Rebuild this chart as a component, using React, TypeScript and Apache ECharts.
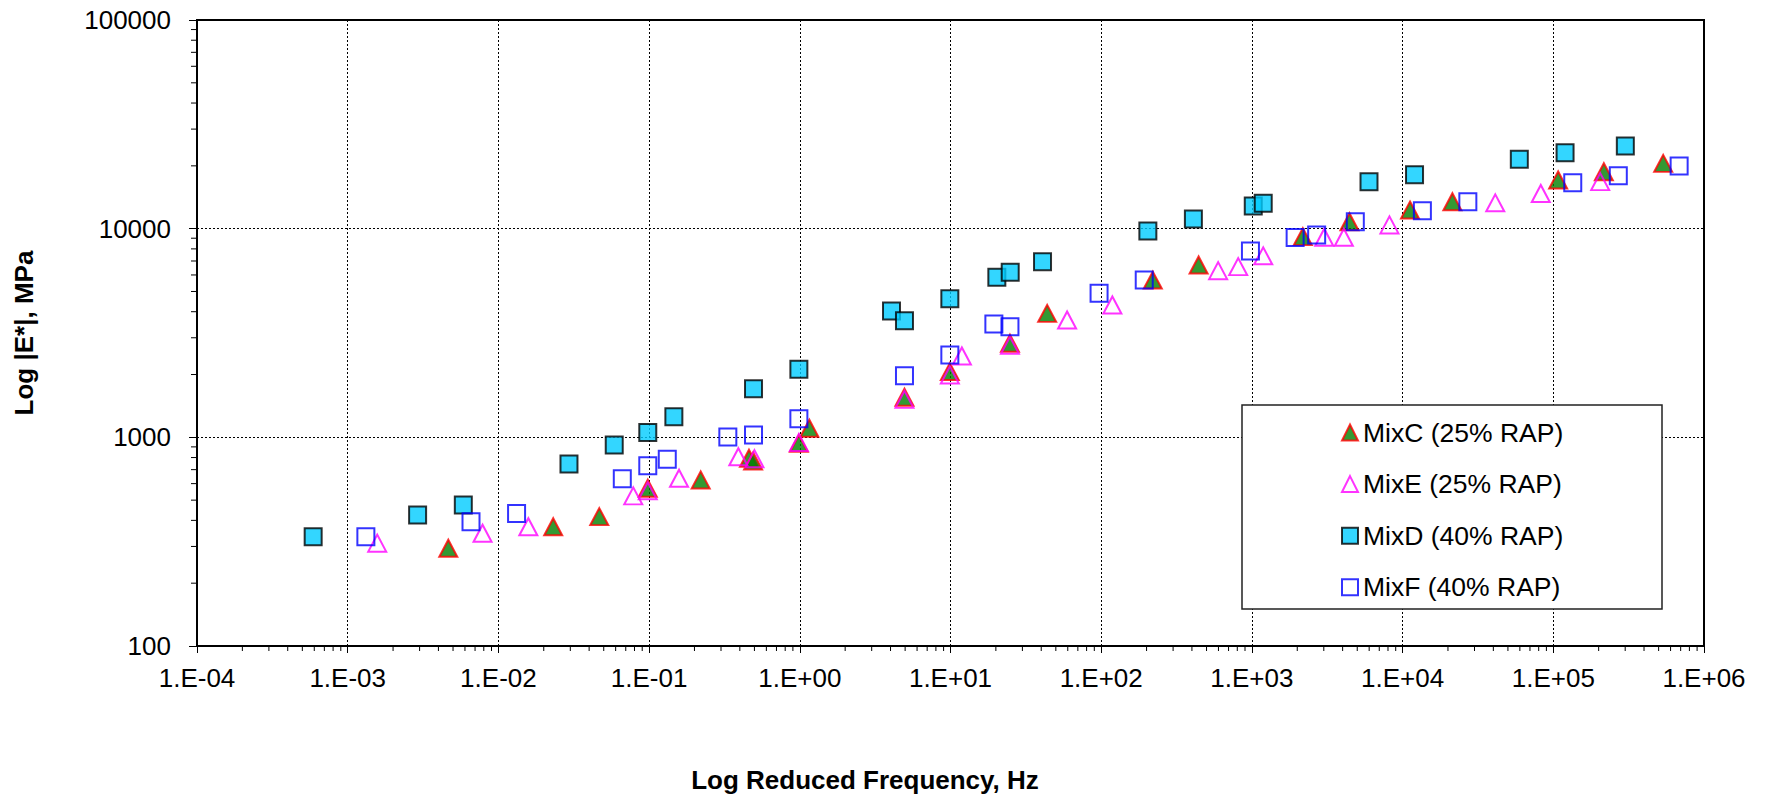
import React, { useEffect, useRef } from "react";
import * as echarts from "echarts";

// Axis ranges
const X_MIN = 1e-4;
const X_MAX = 1e6;
const Y_MIN = 100;
const Y_MAX = 100000;

// Series data: [reduced frequency (Hz), |E*| (MPa)]
const mixC: [number, number][] = [
  [4.65e-3, 294], [0.0231, 373], [0.0467, 417], [0.098, 570], [0.22, 625],
  [0.46, 794], [0.49, 770], [0.986, 936], [1.157, 1105], [4.95, 1556],
  [9.9, 2066], [24.8, 2825], [43.8, 3928], [220, 5670], [443, 6700],
  [2178, 9160], [4440, 10790], [11200, 12280], [21400, 13460],
  [107700, 17110], [216500, 18740], [536000, 20560],
];

const mixE: [number, number][] = [
  [1.57e-3, 311], [7.85e-3, 347], [0.0158, 373], [0.0785, 524], [0.098, 555],
  [0.158, 637], [0.391, 807], [0.5, 790], [0.986, 945], [4.95, 1520],
  [9.9, 1990], [11.9, 2455], [24.8, 2760], [59.4, 3650], [118.6, 4305],
  [597, 6290], [811, 6580], [1189, 7410], [3020, 9100], [4075, 9100],
  [8180, 10420], [41200, 13300], [82600, 14750], [204700, 16800],
];

const mixD: [number, number][] = [
  [5.9e-4, 334], [2.91e-3, 424], [5.85e-3, 474], [0.0294, 745], [0.0587, 918],
  [0.098, 1056], [0.146, 1256], [0.493, 1711], [0.986, 2119], [4.06, 4030],
  [4.95, 3622], [9.9, 4618], [20.3, 5850], [24.9, 6180], [40.8, 6950],
  [204, 9750], [409, 11120], [1021, 12850], [1189, 13250], [5985, 16760],
  [12000, 18150], [59500, 21500], [119700, 23100], [300600, 24900],
];

const mixF: [number, number][] = [
  [1.32e-3, 334], [6.58e-3, 394], [0.0132, 432], [0.0664, 634], [0.098, 730],
  [0.132, 785], [0.333, 1004], [0.493, 1026], [0.986, 1228], [4.95, 1972],
  [9.9, 2484], [19.4, 3490], [24.8, 3390], [96.8, 4900], [193, 5670],
  [978, 7810], [1936, 9060], [2690, 9330], [4855, 10790], [13530, 12170],
  [27100, 13460], [134600, 16600], [270000, 17940], [684000, 19950],
];

const seriesNames = ["MixC (25% RAP)", "MixE (25% RAP)", "MixD (40% RAP)", "MixF (40% RAP)"];
const xTitle = "Log Reduced Frequency, Hz";
const yTitle = "Log |E*|, MPa";

const FONT = "'Liberation Sans', Arial, sans-serif";

function minorTicks(minExp: number, maxExp: number): number[] {
  const out: number[] = [];
  for (let e = minExp; e < maxExp; e++) {
    for (let k = 2; k <= 9; k++) out.push(k * Math.pow(10, e));
  }
  return out;
}

function fmtExp(v: number): string {
  const e = Math.round(Math.log10(v));
  const s = e < 0 ? "-" : "+";
  const a = Math.abs(e);
  return "1.E" + s + (a < 10 ? "0" + a : String(a));
}

export default function App() {
  const ref = useRef<HTMLDivElement>(null);

  useEffect(() => {
    document.body.style.margin = "0";
    const chart = echarts.init(ref.current!, null, { renderer: "svg" });

    const xMinor = minorTicks(-4, 6).map((v) => [v, Y_MIN]);
    const yMinor = minorTicks(2, 5).map((v) => [X_MIN, v]);

    const option: any = {
      animation: false,
      backgroundColor: "#fff",
      textStyle: { fontFamily: FONT },
      grid: {
        left: 197,
        right: 61,
        top: 20,
        bottom: 150,
        show: true,
        borderColor: "#000",
        borderWidth: 2,
        backgroundColor: "transparent",
      },
      xAxis: {
        type: "log",
        logBase: 10,
        min: X_MIN,
        max: X_MAX,
        interval: 1,
        axisLine: { show: true, onZero: false, lineStyle: { color: "#000", width: 2 } },
        axisTick: { show: true, length: 7, lineStyle: { color: "#000", width: 1 } },
        axisLabel: {
          color: "#000",
          fontSize: 26,
          fontFamily: FONT,
          margin: 19,
          formatter: (v: number) => fmtExp(v),
        },
        splitLine: { show: true, lineStyle: { color: "#000", width: 1, type: [2, 2] } },
      },
      yAxis: {
        type: "log",
        logBase: 10,
        min: Y_MIN,
        max: Y_MAX,
        interval: 1,
        axisLine: { show: true, onZero: false, lineStyle: { color: "#000", width: 2 } },
        axisTick: { show: true, length: 8, lineStyle: { color: "#000", width: 1 } },
        axisLabel: {
          color: "#000",
          fontSize: 26,
          fontFamily: FONT,
          margin: 26,
          formatter: (v: number) => String(Math.round(v)),
        },
        splitLine: { show: true, lineStyle: { color: "#000", width: 1, type: [2, 2] } },
      },
      legend: {
        show: true,
        orient: "vertical",
        left: 1336,
        top: 414,
        itemWidth: 16,
        itemHeight: 16,
        itemGap: 24.6,
        z: 10,
        textStyle: { color: "#000", fontSize: 26.5, fontFamily: FONT },
        data: [
          { name: seriesNames[0], icon: "triangle" },
          { name: seriesNames[1], icon: "triangle" },
          { name: seriesNames[2], icon: "rect" },
          { name: seriesNames[3], icon: "rect" },
        ],
      },
      graphic: [
        {
          type: "rect",
          z: 5,
          shape: { x: 1242, y: 405, width: 420, height: 204 },
          style: { fill: "#fff", stroke: "#222", lineWidth: 1.5 },
        },
        {
          type: "text",
          x: 865,
          y: 780,
          style: {
            text: xTitle,
            fill: "#000",
            font: `bold 26px ${FONT}`,
            align: "center",
            verticalAlign: "middle",
          },
        },
        {
          type: "text",
          x: 24,
          y: 333,
          rotation: Math.PI / 2,
          style: {
            text: yTitle,
            fill: "#000",
            font: `bold 26px ${FONT}`,
            align: "center",
            verticalAlign: "middle",
          },
        },
      ],
      series: [
        {
          name: seriesNames[0],
          type: "scatter",
          data: mixC,
          symbol: "triangle",
          symbolSize: [18, 17],
          itemStyle: { color: "#008000", borderColor: "#FF0000", borderWidth: 2 },
          z: 3,
        },
        {
          name: seriesNames[1],
          type: "scatter",
          data: mixE,
          symbol: "triangle",
          symbolSize: [18, 17],
          itemStyle: { color: "rgba(255,255,255,0)", borderColor: "#FF00FF", borderWidth: 2 },
          z: 3,
        },
        {
          name: seriesNames[2],
          type: "scatter",
          data: mixD,
          symbol: "rect",
          symbolSize: 17,
          itemStyle: { color: "#00CCFF", borderColor: "#000", borderWidth: 2 },
          z: 3,
        },
        {
          name: seriesNames[3],
          type: "scatter",
          data: mixF,
          symbol: "rect",
          symbolSize: 17,
          itemStyle: { color: "rgba(255,255,255,0)", borderColor: "#0000FF", borderWidth: 2 },
          z: 3,
        },
        {
          type: "custom",
          silent: true,
          clip: false,
          data: xMinor,
          renderItem: (_p: any, api: any) => {
            const pt = api.coord([api.value(0), api.value(1)]);
            return {
              type: "line",
              shape: { x1: pt[0], y1: pt[1], x2: pt[0], y2: pt[1] + 5 },
              style: { stroke: "#000", lineWidth: 1 },
            };
          },
        },
        {
          type: "custom",
          silent: true,
          clip: false,
          data: yMinor,
          renderItem: (_p: any, api: any) => {
            const pt = api.coord([api.value(0), api.value(1)]);
            return {
              type: "line",
              shape: { x1: pt[0] - 6, y1: pt[1], x2: pt[0], y2: pt[1] },
              style: { stroke: "#000", lineWidth: 1 },
            };
          },
        },
      ],
    };

    chart.setOption(option);
    return () => chart.dispose();
  }, []);

  return <div ref={ref} style={{ width: 1765, height: 796 }} />;
}
